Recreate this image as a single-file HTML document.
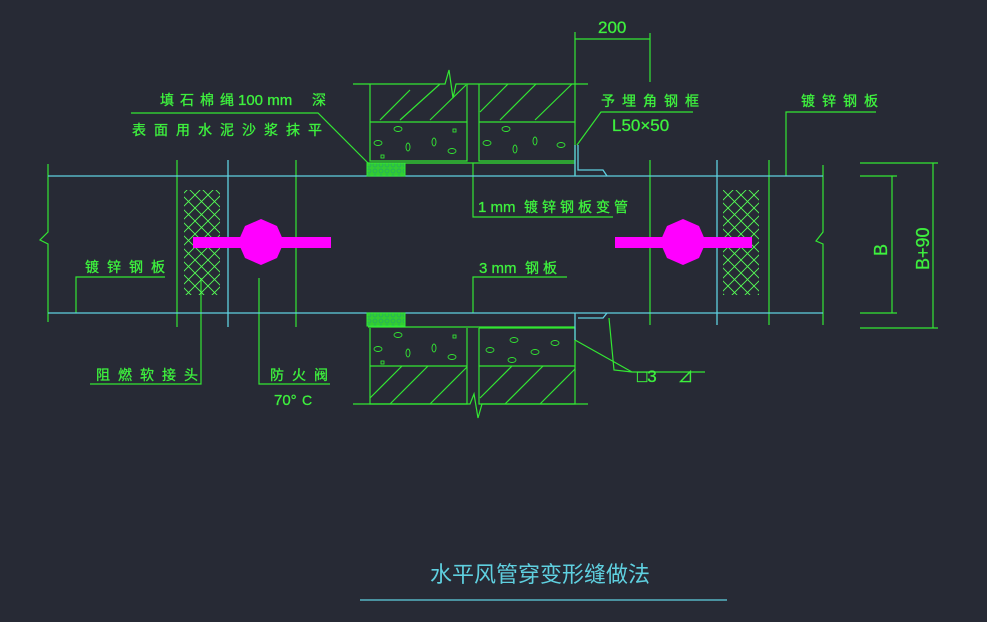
<!DOCTYPE html>
<html><head><meta charset="utf-8"><style>
html,body{margin:0;padding:0;background:#272a35;}
svg{display:block}
text{font-family:"Liberation Sans","Noto Sans CJK SC",sans-serif;}
</style></head><body>
<svg width="987" height="622" viewBox="0 0 987 622" xmlns="http://www.w3.org/2000/svg">
<rect width="987" height="622" fill="#272a35"/>
<defs>
<pattern id="hx" width="13" height="13" patternUnits="userSpaceOnUse">
<path d="M0 0L13 13M13 0L0 13" stroke="#5f5" stroke-width="0.9"/>
</pattern>
<pattern id="pad" width="6" height="6" patternUnits="userSpaceOnUse">
<rect width="6" height="6" fill="#3c3"/><circle cx="3" cy="3" r="2" fill="none" stroke="#2a6" stroke-width="0.7"/>
</pattern>
</defs>
<g stroke="#33e633" stroke-width="1.2" fill="none">
<path d="M48 164V232L40 240L48 244V322"/>
<path d="M823 165V232L816 241L823 244V325"/>
<path d="M177 160V327M296 160V327M650 160V325M769 160V325"/>
<path d="M353 84H445L449 70L453 98L456 84H588"/>
<path d="M370 84V161H467V84M370 122H467M479 84V161H575M479 122H575"/>
<path d="M368 163H575"/>
<path d="M380 120L410 90M400 120L440 84M430 120L466 85M480 112L508 84M500 120L536 84M535 120L572 84"/>
<path d="M353 404H470L474 394L478 418L482 404H588"/>
<path d="M370 328V404H467V328M370 366H467M479 328V404H575V328H479M479 366H575"/>
<path d="M368 327H575"/>
<path d="M370 398L402 366M390 404L428 366M430 404L467 367M480 398L512 366M505 404L543 366M540 404L575 369"/>
<path d="M473 163V217H613M473 313V277H567"/>
<path d="M575 32V175M650 33V82M575 39H650"/>
<path d="M577 145L601 112H693"/>
<path d="M131 113H318L368 163"/>
<path d="M575 340L632 372L614 370L609 318M632 372H705"/>
<path d="M76 313V277H165M201 278V384H90M259 278V384H330"/>
<path d="M786 176V112H876"/>
<path d="M860 176H897M860 313H897M892 176V313M860 163H938M860 328H938M933 163V328"/>
<g stroke-width="0.9">
<ellipse cx="398" cy="129" rx="4" ry="2.5"/><ellipse cx="378" cy="143" rx="4" ry="2.5"/><ellipse cx="408" cy="147" rx="2" ry="4"/><ellipse cx="434" cy="142" rx="2" ry="4"/><ellipse cx="452" cy="151" rx="4" ry="2.5"/><rect x="453" y="129" width="3" height="3"/><rect x="381" y="155" width="3" height="3"/>
<ellipse cx="506" cy="129" rx="4" ry="2.5"/><ellipse cx="487" cy="143" rx="4" ry="2.5"/><ellipse cx="515" cy="149" rx="2" ry="4"/><ellipse cx="535" cy="141" rx="2" ry="4"/><ellipse cx="561" cy="145" rx="4" ry="2.5"/>
<ellipse cx="398" cy="335" rx="4" ry="2.5"/><ellipse cx="378" cy="349" rx="4" ry="2.5"/><ellipse cx="408" cy="353" rx="2" ry="4"/><ellipse cx="434" cy="348" rx="2" ry="4"/><ellipse cx="452" cy="357" rx="4" ry="2.5"/><rect x="453" y="335" width="3" height="3"/><rect x="381" y="361" width="3" height="3"/>
<ellipse cx="514" cy="340" rx="4" ry="2.5"/><ellipse cx="490" cy="350" rx="4" ry="2.5"/><ellipse cx="535" cy="352" rx="4" ry="2.5"/><ellipse cx="555" cy="343" rx="4" ry="2.5"/><ellipse cx="512" cy="360" rx="4" ry="2.5"/>
</g>
</g>
<g stroke="#5fd0e0" stroke-width="1.3" fill="none">
<path d="M48 176H823M48 313H823"/>
<path d="M228 160V327M717 160V325"/>
<path d="M575 145V176M578 145V170H603L607 176M575 313V340M578 318H603L607 313"/>
<path d="M360 600H727"/>
</g>
<rect x="184" y="190" width="36" height="105" fill="url(#hx)"/>
<rect x="723" y="190" width="36" height="105" fill="url(#hx)"/>
<rect x="367" y="163" width="38" height="13" fill="url(#pad)" stroke="#3e3"/>
<rect x="367" y="313" width="38" height="13" fill="url(#pad)" stroke="#3e3"/>
<g fill="#f0f">
<rect x="193" y="237" width="138" height="11"/>
<polygon points="261,219 277,226 284,242 277,258 261,265 245,258 238,242 245,226"/>
<rect x="615" y="237" width="137" height="11"/>
<polygon points="683,219 699,226 706,242 699,258 683,265 667,258 660,242 667,226"/>
</g>
<g fill="#3ef03e" font-size="14" stroke="#3ef03e" stroke-width="0.3">
<text x="160" y="105" letter-spacing="6">填石棉绳</text>
<text x="238" y="105" font-size="15">100 mm</text>
<text x="312" y="105">深</text>
<text x="132" y="135" letter-spacing="8">表面用水泥沙浆抹平</text>
<text x="85" y="272" letter-spacing="8">镀锌钢板</text>
<text x="96" y="380" letter-spacing="8">阻燃软接头</text>
<text x="270" y="380" letter-spacing="8">防火阀</text>
<text x="274" y="405" font-size="15">70°</text><text x="302" y="405">C</text>
<text x="478" y="212" font-size="15">1 mm</text>
<text x="524" y="212" letter-spacing="4">镀锌钢板变管</text>
<text x="479" y="273" font-size="15">3 mm</text>
<text x="525" y="273" letter-spacing="4">钢板</text>
<text x="601" y="106" letter-spacing="7">予埋角钢框</text>
<text x="612" y="131" font-size="17">L50×50</text>
<text x="801" y="106" letter-spacing="7">镀锌钢板</text>
<text x="598" y="33" font-size="17">200</text>
<text x="637" y="382" font-size="17">□3</text>
<text x="678" y="382" font-size="15">⊿</text>
<text font-size="18" transform="translate(887 256) rotate(-90)">B</text>
<text font-size="18" transform="translate(929 270) rotate(-90)">B+90</text>
</g>
<text x="540" y="582" text-anchor="middle" font-size="22" fill="#5fd0e0">水平风管穿变形缝做法</text>
</svg>
</body></html>
